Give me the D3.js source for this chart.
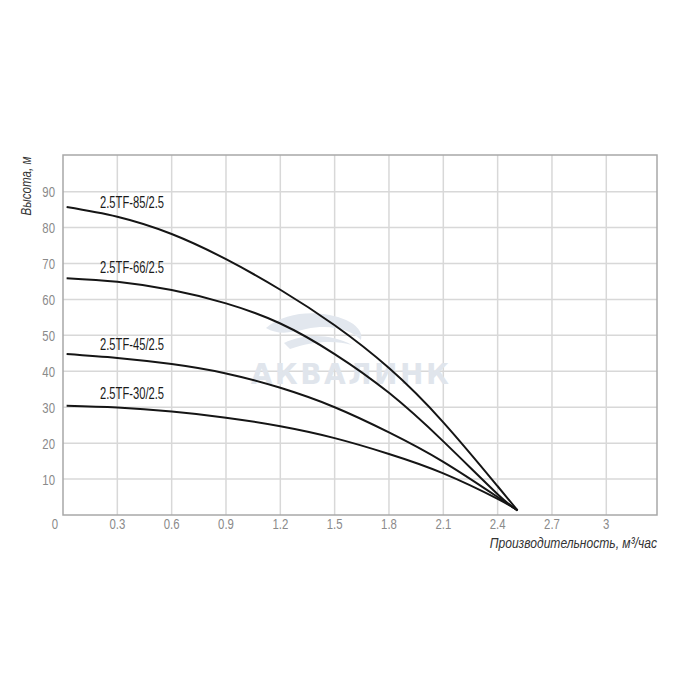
<!DOCTYPE html>
<html>
<head>
<meta charset="utf-8">
<script src="https://cdn.jsdelivr.net/npm/d3@7"></script>
<style>
  body { margin: 0; background: #fff; }
  svg { display: block; }
  .cond { font-family: "Liberation Sans", Arial, sans-serif; }
</style>
</head>
<body>
<svg id="chart" width="700" height="700"></svg>
<script>
// ---- data ----
const flow = [0.02, 0.3, 0.6, 0.9, 1.2, 1.5, 1.8, 2.1, 2.4, 2.51];
const seriesNames = ["2.5TF-85/2.5", "2.5TF-66/2.5", "2.5TF-45/2.5", "2.5TF-30/2.5"];
const head85 = [85.7, 83.0, 78.2, 71.2, 62.7, 52.8, 40.9, 25.8, 8.0, 1.3];
const head66 = [65.9, 64.9, 62.6, 58.9, 53.3, 44.8, 34.0, 20.5, 5.8, 1.3];
const head45 = [44.8, 43.7, 42.0, 39.4, 35.4, 30.0, 23.0, 14.8, 5.0, 1.3];
const head30 = [30.4, 29.9, 28.8, 27.1, 24.7, 21.4, 17.0, 11.6, 4.5, 1.3];
const xTicks = [0, 0.3, 0.6, 0.9, 1.2, 1.5, 1.8, 2.1, 2.4, 2.7, 3];
const xTickLabels = ["0", "0.3", "0.6", "0.9", "1.2", "1.5", "1.8", "2.1", "2.4", "2.7", "3"];
const yTicks = [10, 20, 30, 40, 50, 60, 70, 80, 90];
const yTitle = "Высота, м";
const xTitle = "Производительность, м³/час";
const watermark = "АКВАЛИНК";

const heads = [head85, head66, head45, head30];

// ---- layout ----
const svg = d3.select("#chart");
const L = 63, R = 657, T = 155, B = 515;
const x = d3.scaleLinear().domain([0, 3.28]).range([L, R]);
const y = d3.scaleLinear().domain([0, 100.2]).range([B, T]);

// grid
const g = svg.append("g");
g.selectAll(".vg").data(xTicks.filter(d => d > 0)).enter().append("line")
  .attr("x1", d => x(d)).attr("x2", d => x(d)).attr("y1", T).attr("y2", B)
  .attr("stroke", "#d8d8d8").attr("stroke-width", 1.5);
g.selectAll(".hg").data(yTicks).enter().append("line")
  .attr("x1", L).attr("x2", R).attr("y1", d => y(d)).attr("y2", d => y(d))
  .attr("stroke", "#d8d8d8").attr("stroke-width", 1.5);

// watermark
const wm = svg.append("g");
wm.append("path")
  .attr("d", "M266,328 C288,310 322,310 346,320 C357,325 363,332 361,340 C350,329 330,324 306,329 C290,333 278,335 266,328 Z")
  .attr("fill", "#e2e7ee");
wm.append("path")
  .attr("d", "M284,343 C305,333 331,334 352,345 C336,340 311,341 290,349 Z")
  .attr("fill", "#e2e7ee");
wm.append("text")
  .attr("x", 351).attr("y", 384)
  .attr("text-anchor", "middle")
  .attr("font-family", "DejaVu Sans, sans-serif")
  .attr("font-weight", "bold")
  .attr("font-size", 28)
  .attr("letter-spacing", 2.5)
  .attr("fill", "#e0e5ec")
  .text(watermark);

// border
svg.append("rect").attr("x", L).attr("y", T).attr("width", R - L).attr("height", B - T)
  .attr("fill", "none").attr("stroke", "#a8a8a8").attr("stroke-width", 1.5);

// curves
const line = d3.line().x((d, i) => x(flow[i])).y(d => y(d)).curve(d3.curveNatural);
svg.selectAll(".curve").data(heads).enter().append("path")
  .attr("d", d => line(d))
  .attr("fill", "none").attr("stroke", "#151515").attr("stroke-width", 2);

// helper: horizontally condensed text
function condText(sel, px, py, sx) {
  return sel.attr("transform", `translate(${px},${py}) scale(${sx},1)`);
}

// series labels
const labelY = [201.7, 266.7, 344, 393.3];
seriesNames.forEach((name, i) => {
  condText(svg.append("text").attr("class", "cond"), 100, labelY[i] + 6, 0.7)
    .attr("font-size", 16).attr("fill", "#1a1a1a")
    .text(name);
});

// axes tick labels
xTicks.forEach((d, i) => {
  condText(svg.append("text").attr("class", "cond"), d === 0 ? x(d) - 8 : x(d), 528.5, 0.76)
    .attr("text-anchor", "middle")
    .attr("font-size", 15).attr("fill", "#8a8a8a")
    .text(xTickLabels[i]);
});
yTicks.forEach(d => {
  condText(svg.append("text").attr("class", "cond"), 55, y(d) + 5.5, 0.76)
    .attr("text-anchor", "end")
    .attr("font-size", 15).attr("fill", "#8a8a8a")
    .text(d);
});

// titles
svg.append("text").attr("class", "cond")
  .attr("transform", "translate(31,186) rotate(-90) scale(0.8,1)")
  .attr("text-anchor", "middle")
  .attr("font-size", 14.5).attr("font-style", "italic").attr("fill", "#333")
  .text(yTitle);
condText(svg.append("text").attr("class", "cond"), 657, 548, 0.78)
  .attr("text-anchor", "end")
  .attr("font-size", 15.5).attr("font-style", "italic").attr("fill", "#333")
  .text(xTitle);
</script>
</body>
</html>
